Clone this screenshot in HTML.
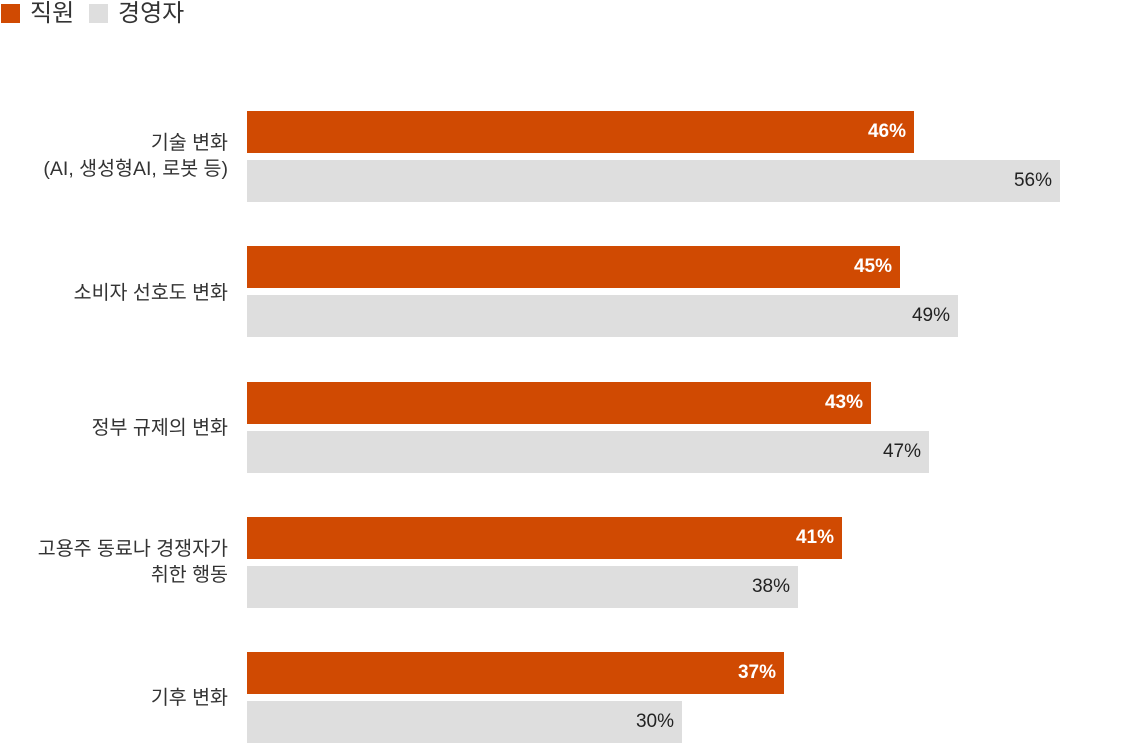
<!DOCTYPE html>
<html><head><meta charset="utf-8"><style>
body{margin:0;width:1123px;height:745px;background:#fff;font-family:"Liberation Sans","Noto Sans CJK KR",sans-serif;position:relative;overflow:hidden}
.a{position:absolute}
.o{background:#d04a02;height:42px;left:247px}
.g{background:#dedede;height:42px;left:247px}
.v{position:absolute;right:8px;top:0;line-height:42px;font-size:19px}
.o .v{color:#fff;font-weight:bold}
.g .v{color:#222}
.l{right:895px;text-align:right;font-size:19.5px;color:#333;line-height:26px;white-space:nowrap}
</style></head><body>
<div class="a" style="left:1px;top:4px;width:19px;height:19px;background:#d04a02"></div>
<div class="a" style="left:30px;top:0;font-size:24px;color:#333;line-height:28px">직원</div>
<div class="a" style="left:89px;top:4px;width:19px;height:19px;background:#dedede"></div>
<div class="a" style="left:118px;top:0;font-size:24px;color:#333;line-height:28px">경영자</div>

<div class="a o" style="top:111px;width:667px"><span class="v">46%</span></div>
<div class="a g" style="top:160px;width:813px"><span class="v">56%</span></div>
<div class="a l" style="top:130px">기술 변화<br>(AI, 생성형AI, 로봇 등)</div>

<div class="a o" style="top:246px;width:653px"><span class="v">45%</span></div>
<div class="a g" style="top:295px;width:711px"><span class="v">49%</span></div>
<div class="a l" style="top:280px">소비자 선호도 변화</div>

<div class="a o" style="top:382px;width:624px"><span class="v">43%</span></div>
<div class="a g" style="top:431px;width:682px"><span class="v">47%</span></div>
<div class="a l" style="top:415px">정부 규제의 변화</div>

<div class="a o" style="top:517px;width:595px"><span class="v">41%</span></div>
<div class="a g" style="top:566px;width:551px"><span class="v">38%</span></div>
<div class="a l" style="top:536px">고용주 동료나 경쟁자가<br>취한 행동</div>

<div class="a o" style="top:652px;width:537px"><span class="v">37%</span></div>
<div class="a g" style="top:701px;width:435px"><span class="v">30%</span></div>
<div class="a l" style="top:685px">기후 변화</div>
</body></html>
